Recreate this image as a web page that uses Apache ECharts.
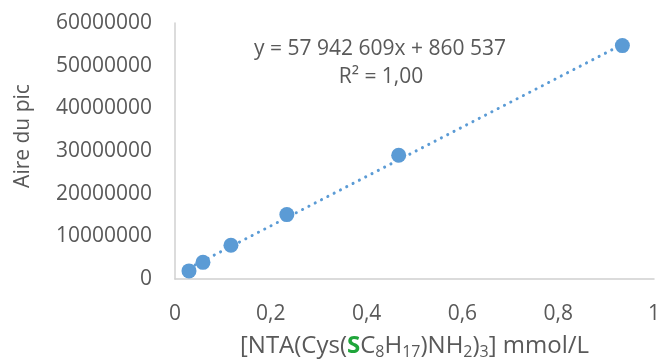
<!DOCTYPE html>
<html>
<head>
<meta charset="utf-8">
<script src="https://cdn.jsdelivr.net/npm/echarts@6/dist/echarts.min.js"></script>
<style>
  html, body { margin: 0; padding: 0; background: #fff; }
  #chart { width: 663px; height: 362px; }
</style>
</head>
<body>
<div id="chart"></div>
<script>
var concentrations = [0.0292, 0.0584, 0.1168, 0.2335, 0.467, 0.934];
var areas = [1900000, 3900000, 7900000, 15100000, 29000000, 54700000];
// trend line end points (from the equation shown on the chart)
var trendX = [0.0292, 0.934];
var trendY = [2552000, 54979000];
var xTicks = ['0', '0,2', '0,4', '0,6', '0,8', '1'];
var equationText = 'y = 57 942 609x + 860 537';
var r2Text = 'R² = 1,00';

var chart = echarts.init(document.getElementById('chart'));
var font = 'Open Sans';
var grey = '#595959';

var pts = concentrations.map(function (c, i) { return [c, areas[i]]; });
var trend = trendX.map(function (c, i) { return [c, trendY[i]]; });

var option = {
    animation: false,
    textStyle: { fontFamily: font },
    grid: { left: 175, right: 9, top: 23, bottom: 83, containLabel: false, outerBoundsMode: 'none' },
    xAxis: {
        type: 'value',
        min: 0,
        max: 1,
        interval: 0.2,
        splitLine: { show: false },
        axisTick: { show: false },
        axisLine: { lineStyle: { color: '#d0d0d0', width: 1.5 } },
        axisLabel: {
            color: grey, fontSize: 21, margin: 25,
            formatter: function (v) { return xTicks[Math.round(v / 0.2)]; }
        },
        name: '{a|[NTA(Cys(}{s|S}{a|C}{sub|8}{a|H}{sub|17}{a|)NH}{sub|2}{a|)}{sub|3}{a|] mmol/L}',
        nameLocation: 'middle',
        nameGap: 53,
        nameTextStyle: {
            rich: {
                a: { color: grey, fontSize: 24, fontFamily: font },
                s: { color: '#1fa53a', fontSize: 24, fontWeight: 'bold', fontFamily: font },
                sub: { color: grey, fontSize: 16, fontFamily: font, padding: [12, 0, 0, 0] }
            }
        }
    },
    yAxis: {
        type: 'value',
        min: 0,
        max: 60000000,
        interval: 10000000,
        splitLine: { show: false },
        axisTick: { show: false },
        axisLine: { show: true, lineStyle: { color: '#d0d0d0', width: 1.5 } },
        axisLabel: { color: grey, fontSize: 21, margin: 23, formatter: function (v) { return String(v); } },
        name: 'Aire du pic',
        nameLocation: 'middle',
        nameGap: 141,
        nameTextStyle: { color: grey, fontSize: 21, padding: [0, 0, 0, 30] }
    },
    graphic: [
        { type: 'text', x: 380, y: 49, style: { text: equationText, fill: grey, font: '21px "Open Sans"', textAlign: 'center', textVerticalAlign: 'middle' } },
        { type: 'text', x: 381, y: 77, style: { text: r2Text, fill: grey, font: '21px "Open Sans"', textAlign: 'center', textVerticalAlign: 'middle' } }
    ],
    series: [
        {
            type: 'line',
            data: trend,
            symbol: 'none',
            lineStyle: { color: '#5b9bd5', width: 3, type: [0.1, 7], cap: 'round' },
            z: 1
        },
        {
            type: 'scatter',
            data: pts,
            symbolSize: 15,
            itemStyle: { color: '#5b9bd5', opacity: 1 },
            z: 2
        }
    ]
};
chart.setOption(option);
</script>
</body>
</html>
